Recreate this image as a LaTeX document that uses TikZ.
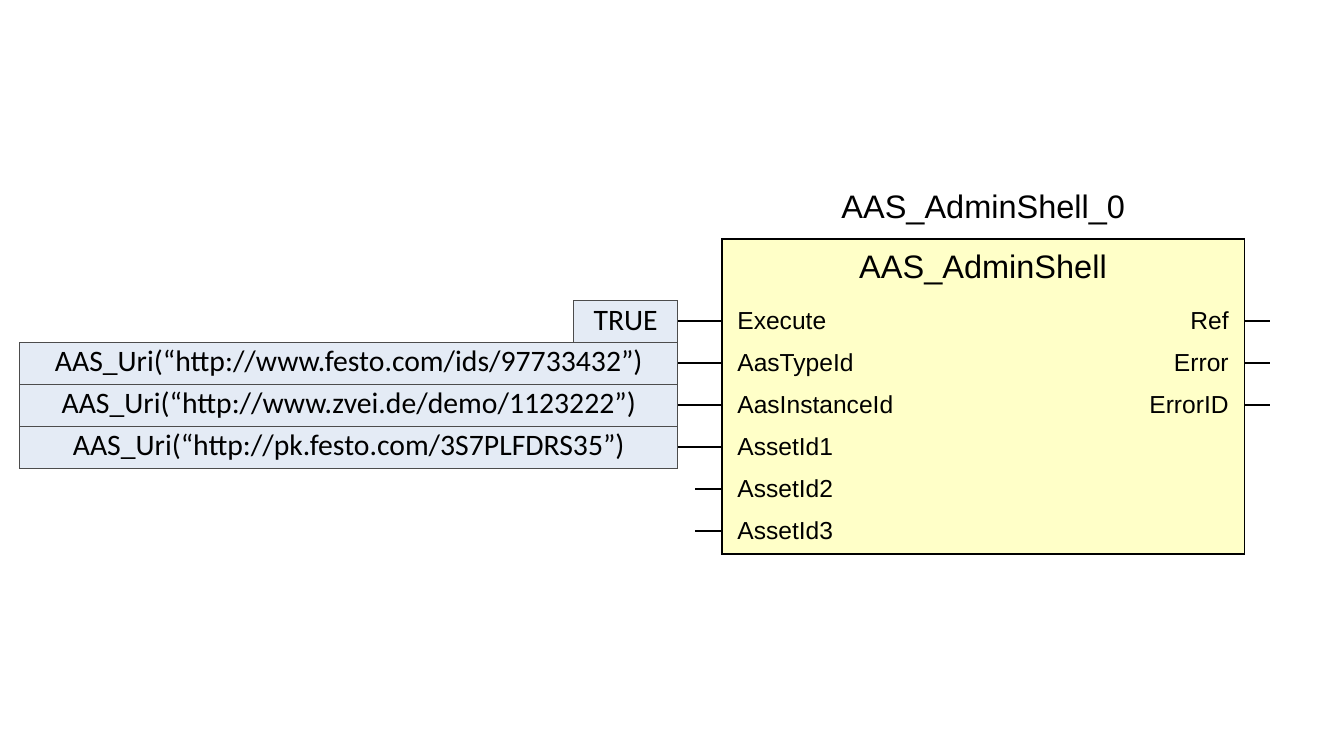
\documentclass[tikz,border=0pt]{standalone}
\usepackage{fontspec}
\setmainfont{Liberation Sans}
\newfontfamily\valfont{Carlito}
\usetikzlibrary{positioning}
\definecolor{fbfill}{RGB}{255,255,200}
\definecolor{valfill}{RGB}{228,235,245}
\tikzset{
  pin/.style  = {font=\fontsize{14}{16}\selectfont, inner sep=0pt},
  val/.style  = {draw=black!70, fill=valfill, font=\valfont\fontsize{16.9}{19}\selectfont,
                 minimum height=0.84cm, inner sep=0pt, anchor=east},
  wire/.style = {draw, line width=0.9pt}
}
\begin{document}
\begin{tikzpicture}[x=0.02cm, y=-0.02cm]
  \useasboundingbox (0,0) rectangle (1320,742);
  % function block
  \node[draw, line width=0.9pt, fill=fbfill, minimum width=10.46cm, minimum height=6.3cm,
        inner sep=0pt, anchor=north west] (fb) at (721,238) {};
  \node[font=\fontsize{18.5}{20}\selectfont, above=4pt of fb.north] (inst) {AAS\_AdminShell\_0};
  \node[font=\fontsize{18.5}{20}\selectfont] (type) at (983,270) {AAS\_AdminShell};
  % inputs
  \foreach \name/\y/\txt in {ex/321/Execute, ti/363/AasTypeId, ii/405/AasInstanceId,
                              a1/447/AssetId1, a2/489/AssetId2, a3/531/AssetId3} {
    \coordinate (\name-p) at (721,\y);
    \node[pin, anchor=base west] (\name) at (737,\y+9) {\txt};
  }
  % outputs
  \foreach \name/\y/\txt in {rf/321/Ref, er/363/Error, ed/405/ErrorID} {
    \coordinate (\name-p) at (1244,\y);
    \coordinate (\name-e) at (1270,\y);
    \node[pin, anchor=base east] (\name) at (1229,\y+9) {\txt};
    \draw[wire] (\name-p) -- (\name-e);
  }
  % constant values
  \node[val, minimum width=2.08cm] (v0) at (678,321) {TRUE};
  \node[val, minimum width=13.16cm] (v1) at (678,363) {AAS\_Uri(“http://www.festo.com/ids/97733432”)};
  \node[val, minimum width=13.16cm] (v2) at (678,405) {AAS\_Uri(“http://www.zvei.de/demo/1123222”)};
  \node[val, minimum width=13.16cm] (v3) at (678,447) {AAS\_Uri(“http://pk.festo.com/3S7PLFDRS35”)};
  \draw[wire] (v0) -- (ex-p);
  \draw[wire] (v1) -- (ti-p);
  \draw[wire] (v2) -- (ii-p);
  \draw[wire] (v3) -- (a1-p);
  \coordinate (a2-e) at (695,489);
  \coordinate (a3-e) at (695,531);
  \draw[wire] (a2-e) -- (a2-p);
  \draw[wire] (a3-e) -- (a3-p);
\end{tikzpicture}
\end{document}
